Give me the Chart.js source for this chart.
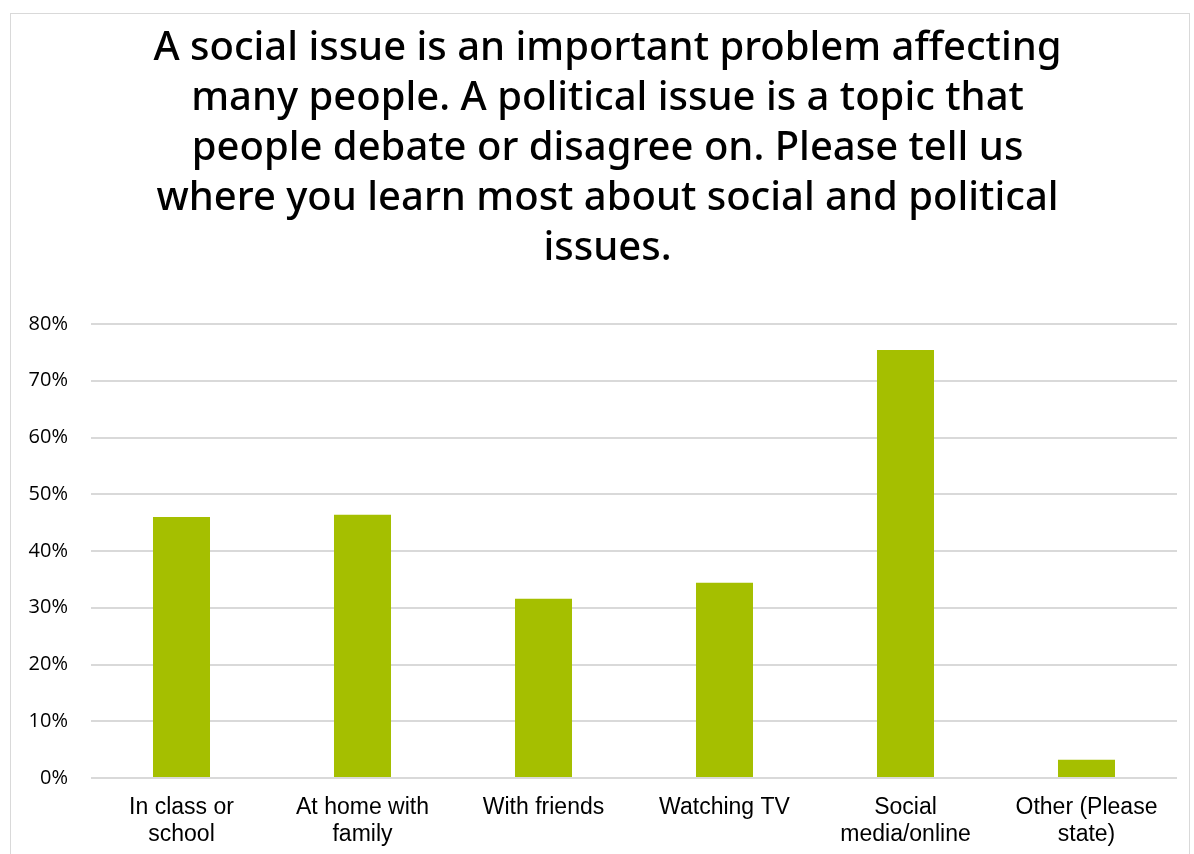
<!DOCTYPE html>
<html>
<head>
<meta charset="utf-8">
<script src="https://cdn.jsdelivr.net/npm/chart.js@4"></script>
<style>
  html, body { margin: 0; padding: 0; background: #fff; }
  #frame { position: absolute; left: 10px; top: 13px; width: 1180px; height: 860px; border: 1px solid #d9d9d9; box-sizing: border-box; }
  canvas { position: absolute; left: 0; top: 0; }
</style>
</head>
<body>
<div id="frame"></div>
<canvas id="chart" width="1194" height="854"></canvas>
<script>
// where students learn about social/political issues
const categories = [['In class or', 'school'], ['At home with', 'family'], 'With friends', 'Watching TV', ['Social', 'media/online'], ['Other (Please', 'state)']];
const shares = [46.0, 46.4, 31.6, 34.4, 75.4, 3.2];
const yTicks = [0, 10, 20, 30, 40, 50, 60, 70, 80];
const titleLines = [
  'A social issue is an important problem affecting',
  'many people. A political issue is a topic that',
  'people debate or disagree on. Please tell us',
  'where you learn most about social and political',
  'issues.'
];

// the original title sits a bit right of the canvas centre
const nudgeTitle = {
  id: 'nudgeTitle',
  afterLayout(chart) {
    if (chart.titleBlock) chart.titleBlock.left += 28;
  }
};

const ctx = document.getElementById('chart').getContext('2d');
new Chart(ctx, {
  type: 'bar',
  data: {
    labels: categories,
    datasets: [{
      data: shares,
      backgroundColor: '#a5bf00',
      borderWidth: 0,
      barPercentage: 0.315,
      categoryPercentage: 1
    }]
  },
  options: {
    responsive: false,
    animation: false,
    layout: { padding: { top: 24, left: 10, right: 17, bottom: 0 } },
    plugins: {
      legend: { display: false },
      tooltip: { enabled: false },
      title: {
        display: true,
        text: titleLines,
        color: '#000',
        font: { family: 'Noto Sans', size: 40, weight: '500', lineHeight: 1.25 },
        padding: { top: 0, bottom: 50 }
      }
    },
    scales: {
      x: {
        grid: { display: false },
        border: { display: false },
        ticks: { color: '#000', font: { family: 'Liberation Sans', size: 23, lineHeight: 1.17 }, maxRotation: 0, padding: 8 },
        afterFit: s => { s.height = 76; }
      },
      y: {
        min: 0,
        max: 80,
        afterBuildTicks: s => { s.ticks = yTicks.map(v => ({ value: v })); },
        grid: { color: '#d9d9d9', lineWidth: 2, drawTicks: false },
        border: { display: false },
        ticks: { color: '#000', font: { family: 'Open Sans', size: 20 }, padding: 23, callback: v => v + '%' },
        afterFit: s => { s.width = 81; }
      }
    }
  },
  plugins: [nudgeTitle]
});
</script>
</body>
</html>
